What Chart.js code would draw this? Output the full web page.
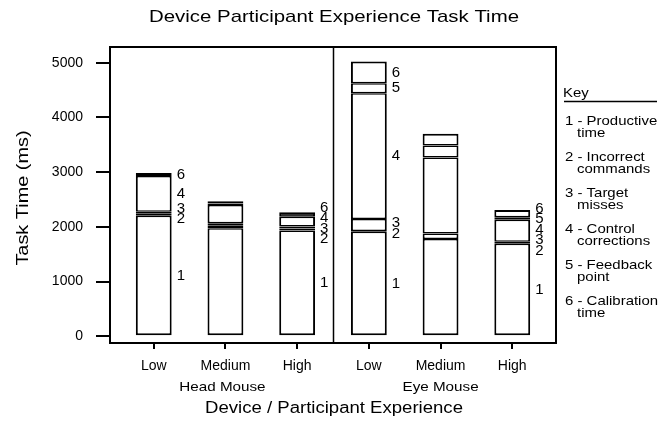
<!DOCTYPE html>
<html>
<head>
<meta charset="utf-8">
<script src="https://cdn.jsdelivr.net/npm/chart.js@4.4.1/dist/chart.umd.min.js"></script>
<style>
  html, body { margin: 0; padding: 0; background: #fff; }
  canvas { display: block; }
</style>
</head>
<body>
<canvas id="chart" width="669" height="421"></canvas>
<script>
const categories = ["Low", "Medium", "High", "Low", "Medium", "High"]
const devices = ["Head Mouse", "Eye Mouse"]
const yTicks = [0, 1000, 2000, 3000, 4000, 5000]

// task time components (ms), one value per device / experience bar
const productiveTime = [2205, 1975, 1935, 1910, 1780, 1690]
const incorrectCommands = [35, 45, 35, 15, 100, 15]
const targetMisses = [35, 45, 35, 220, 0, 25]
const controlCorrections = [655, 335, 180, 2295, 1390, 400]
const feedbackPoint = [0, 25, 0, 185, 215, 45]
const calibrationTime = [55, 45, 80, 395, 215, 135]

const segmentNumbers = ["1", "2", "3", "4", "5", "6"]
const labelledBars = [true, false, true, true, false, true]
const keyLines = [
  ["1 - Productive", "time"],
  ["2 - Incorrect", "commands"],
  ["3 - Target", "misses"],
  ["4 - Control", "corrections"],
  ["5 - Feedback", "point"],
  ["6 - Calibration", "time"]
]

const FONT = "'Liberation Sans', Arial, sans-serif"
const MIN_LABEL_GAP = 10.5
// segments thinner than this print as a solid black rule in the original
const THIN_SEGMENT_MS = 90

Chart.defaults.color = "#000"
Chart.defaults.font.family = FONT

function drawText(ctx, text, x, y, size, stretch, align, rotate) {
  ctx.save()
  ctx.font = `${size}px ${FONT}`
  ctx.fillStyle = "#000"
  ctx.textBaseline = "middle"
  ctx.textAlign = align || "center"
  ctx.translate(x, y)
  if (rotate) ctx.rotate(rotate)
  ctx.scale(stretch, 1)
  ctx.fillText(text, 0, 0)
  ctx.restore()
}

const decorations = {
  id: "decorations",
  afterDatasetsDraw(chart) {
    const ctx = chart.ctx
    const area = chart.chartArea
    const xs = chart.scales.x

    // frame and divider between the two devices
    ctx.save()
    ctx.strokeStyle = "#000"
    ctx.lineWidth = 2
    ctx.strokeRect(area.left, area.top, area.right - area.left, area.bottom - area.top)
    const mid = Math.round(xs.getPixelForValue(2.5)) + 0.5
    ctx.lineWidth = 1.5
    ctx.beginPath()
    ctx.moveTo(mid, area.top)
    ctx.lineTo(mid, area.bottom)
    ctx.stroke()
    ctx.restore()

    // segment numbers next to the bars
    categories.forEach((c, i) => {
      if (!labelledBars[i]) return
      const items = []
      chart.data.datasets.forEach((ds, d) => {
        if (!ds.data[i].y) return
        const el = chart.getDatasetMeta(d).data[i]
        items.push({ text: segmentNumbers[d], x: el.x + el.width / 2 + 5, y: (el.y + el.base) / 2 })
      })
      items.sort((a, b) => a.y - b.y)
      for (let pass = 0; pass < 200; pass++) {
        let moved = false
        for (let k = 1; k < items.length; k++) {
          const gap = items[k].y - items[k - 1].y
          if (gap < MIN_LABEL_GAP - 0.01) {
            const push = (MIN_LABEL_GAP - gap) / 2
            items[k].y += push
            items[k - 1].y -= push
            moved = true
          }
        }
        if (!moved) break
      }
      items.forEach(it => drawText(ctx, it.text, it.x, it.y, 15, 1, "left"))
    })

    // titles
    drawText(ctx, "Device Participant Experience Task Time", 334, 17, 17, 1.2)
    drawText(ctx, "Task Time (ms)", 23, 198, 17, 1.17, "center", -Math.PI / 2)
    drawText(ctx, "Device / Participant Experience", 334, 409, 16, 1.16)
    drawText(ctx, devices[0], xs.getPixelForValue(1) - 3, 387, 13, 1.17)
    drawText(ctx, devices[1], xs.getPixelForValue(4), 387, 13, 1.17)

    // key
    drawText(ctx, "Key", 563, 93, 13, 1.15, "left")
    ctx.save()
    ctx.strokeStyle = "#000"
    ctx.lineWidth = 1.5
    ctx.beginPath()
    ctx.moveTo(564, 101.5)
    ctx.lineTo(657, 101.5)
    ctx.stroke()
    ctx.restore()
    keyLines.forEach((lines, k) => {
      const y = 121 + k * 36
      drawText(ctx, lines[0], 565, y, 13, 1.15, "left")
      drawText(ctx, lines[1], 577, y + 12, 13, 1.15, "left")
    })
  }
}

const series = [productiveTime, incorrectCommands, targetMisses, controlCorrections, feedbackPoint, calibrationTime]

new Chart(document.getElementById("chart"), {
  type: "bar",
  data: {
    datasets: series.map((values, d) => ({
      label: segmentNumbers[d],
      data: values.map((v, i) => ({ x: i, y: v })),
      backgroundColor: values.map(v => (v < THIN_SEGMENT_MS ? "#000" : "#fff")),
      borderColor: "#000",
      borderWidth: {
        left: 2,
        right: 2,
        top: d === series.length - 1 ? 2 : 1.5,
        bottom: d === 0 ? 2 : 1.5
      },
      borderSkipped: false,
      inflateAmount: 0,
      categoryPercentage: 0.5,
      barPercentage: 1
    }))
  },
  options: {
    responsive: false,
    animation: false,
    layout: { padding: { left: 0, top: 47, right: 113, bottom: 0 } },
    plugins: {
      legend: { display: false },
      tooltip: { enabled: false },
      title: { display: false }
    },
    scales: {
      x: {
        type: "linear",
        stacked: true,
        offset: false,
        min: -0.61,
        max: 5.61,
        afterBuildTicks: scale => { scale.ticks = categories.map((c, i) => ({ value: i })) },
        afterFit: scale => { scale.height = 78 },
        ticks: {
          callback: value => categories[value],
          font: { size: 14 },
          padding: 9,
          maxRotation: 0,
          autoSkip: false
        },
        grid: { offset: false, drawOnChartArea: false, drawTicks: true, tickLength: 6, color: "#000", lineWidth: 2 },
        border: { display: false }
      },
      y: {
        stacked: true,
        min: -122,
        max: 5287,
        afterBuildTicks: scale => { scale.ticks = yTicks.map(v => ({ value: v })) },
        afterFit: scale => { scale.width = 110 },
        ticks: { font: { size: 14 }, padding: 13, callback: value => String(value) },
        grid: { drawOnChartArea: false, drawTicks: true, tickLength: 14, color: "#000", lineWidth: 2 },
        border: { display: false }
      }
    }
  },
  plugins: [decorations]
})
</script>
</body>
</html>
